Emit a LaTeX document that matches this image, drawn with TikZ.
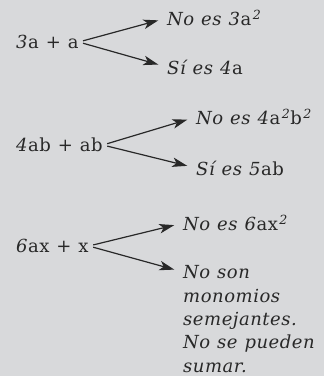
\documentclass[tikz,border=0pt]{standalone}
\usepackage{fontspec}
\setmainfont{DejaVu Serif}[LetterSpace=3,WordSpace=1.1]
\usetikzlibrary{arrows.meta}
\definecolor{bg}{RGB}{216,217,219}
\definecolor{ink}{RGB}{40,40,40}
\newcommand{\sqd}{\kern1.5pt\textsuperscript{\itshape 2}}
\begin{document}
\begin{tikzpicture}[x=1pt,y=-1pt,
  expr/.style={anchor=west,inner sep=0pt,font=\fontsize{18}{23}\selectfont,text=ink},
  res/.style={anchor=west,inner sep=0pt,font=\fontsize{18}{23.3}\selectfont\itshape,text=ink},
  arr/.style={-{Stealth[length=15pt,width=9.5pt,inset=4pt]},line width=1.2pt,draw=ink,
              shorten <=4.5pt,shorten >=9pt}]
\fill[bg] (0,0) rectangle (324,376);
\useasboundingbox (0,0) rectangle (324,376);
% block 1
\node[expr] (e1) at (16,42) {\textit{3}a + a};
\node[res] (n1) at (167,18) {No es 3\textup{a}\sqd};
\node[res] (n2) at (167,67) {Sí es 4\textup{a}};
\draw[arr] (e1.east) -- (n1.west);
\draw[arr] (e1.east) -- (n2.west);
% block 2
\node[expr] (e2) at (16,145) {\textit{4}ab + ab};
\node[res] (n3) at (196,117) {No es 4\textup{a}\sqd\textup{b}\sqd};
\node[res] (n4) at (196,168) {Sí es 5\textup{ab}};
\draw[arr] (e2.east) -- (n3.west);
\draw[arr] (e2.east) -- (n4.west);
% block 3
\node[expr] (e3) at (16,246) {\textit{6}ax + x};
\node[res] (n5) at (183,223) {No es 6\textup{ax}\sqd};
\node[res,anchor=north west,align=left] (n6) at (183,265.5)
  {No son\\monomios\\semejantes.\\No se pueden\\sumar.};
\coordinate (c6) at (183,272);
\draw[arr] (e3.east) -- (n5.west);
\draw[arr] (e3.east) -- (c6);
\end{tikzpicture}
\end{document}
